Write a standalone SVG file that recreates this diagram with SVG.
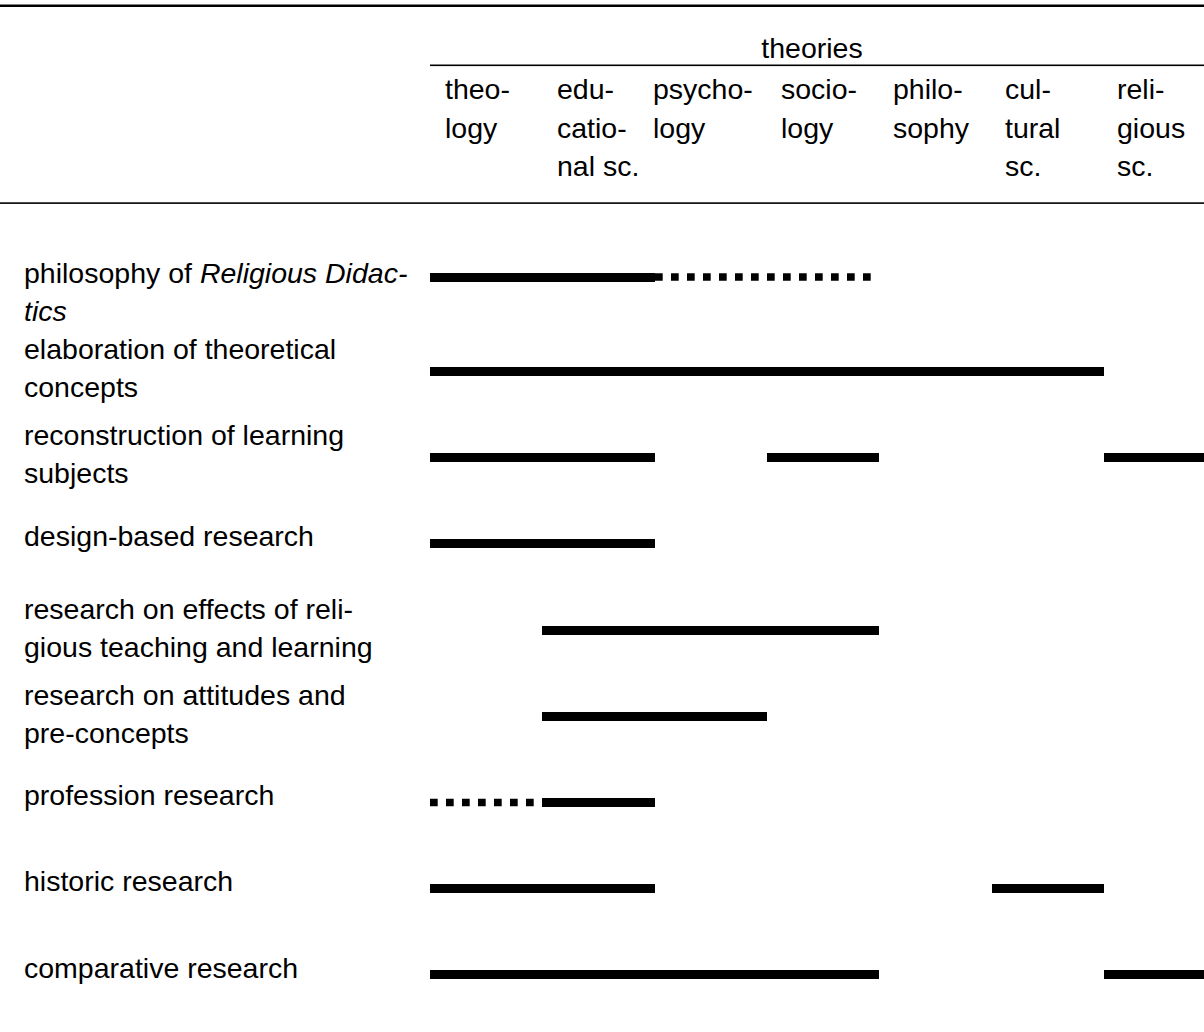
<svg xmlns="http://www.w3.org/2000/svg" width="1204" height="1032" viewBox="0 0 1204 1032">
<style>
text{font-family:"Liberation Sans",Arial,sans-serif;font-size:28.5px;fill:#000}
.it{font-style:italic}
.bar{fill:#000}
.dot{stroke:#000;stroke-width:7.5;stroke-dasharray:7.7 8.3;fill:none}
.rule{fill:#000}
</style>
<rect width="1204" height="1032" fill="#fff"/>
<g id="rules">
<rect class="rule" x="0" y="4.5" width="1204" height="2.5"/>
<rect class="rule" x="430" y="64.5" width="774" height="1.6"/>
<rect class="rule" x="0" y="202.3" width="1204" height="1.6"/>
</g>
<g id="header">
<text x="812" y="58" text-anchor="middle">theories</text>
<g id="col-theology"><text x="445" y="99">theo-</text><text x="445" y="137.5">logy</text></g>
<g id="col-education"><text x="557" y="99">edu-</text><text x="557" y="137.5">catio-</text><text x="557" y="176">nal sc.</text></g>
<g id="col-psychology"><text x="653" y="99">psycho-</text><text x="653" y="137.5">logy</text></g>
<g id="col-sociology"><text x="781" y="99">socio-</text><text x="781" y="137.5">logy</text></g>
<g id="col-philosophy"><text x="893" y="99">philo-</text><text x="893" y="137.5">sophy</text></g>
<g id="col-cultural"><text x="1005" y="99">cul-</text><text x="1005" y="137.5">tural</text><text x="1005" y="176">sc.</text></g>
<g id="col-religious"><text x="1117" y="99">reli-</text><text x="1117" y="137.5">gious</text><text x="1117" y="176">sc.</text></g>
</g>
<g id="labels">
<g id="row1"><text x="24" y="283">philosophy of <tspan class="it">Religious Didac-</tspan></text><text x="24" y="321" class="it">tics</text></g>
<g id="row2"><text x="24" y="359">elaboration of theoretical</text><text x="24" y="397">concepts</text></g>
<g id="row3"><text x="24" y="445">reconstruction of learning</text><text x="24" y="483">subjects</text></g>
<g id="row4"><text x="24" y="546">design-based research</text></g>
<g id="row5"><text x="24" y="619">research on effects of reli-</text><text x="24" y="657">gious teaching and learning</text></g>
<g id="row6"><text x="24" y="705">research on attitudes and</text><text x="24" y="743">pre-concepts</text></g>
<g id="row7"><text x="24" y="805">profession research</text></g>
<g id="row8"><text x="24" y="891">historic research</text></g>
<g id="row9"><text x="24" y="978">comparative research</text></g>
</g>
<g id="connectors">
<rect class="bar" x="430" y="273" width="225" height="9"/>
<line class="dot" x1="655" y1="277" x2="767" y2="277"/>
<line class="dot" x1="767" y1="277" x2="879" y2="277"/>
<rect class="bar" x="430" y="367" width="674" height="9"/>
<rect class="bar" x="430" y="453" width="225" height="9"/>
<rect class="bar" x="767" y="453" width="112" height="9"/>
<rect class="bar" x="1104" y="453" width="100" height="9"/>
<rect class="bar" x="430" y="539" width="225" height="9"/>
<rect class="bar" x="542" y="626" width="337" height="9"/>
<rect class="bar" x="542" y="712" width="225" height="9"/>
<line class="dot" x1="430" y1="802.5" x2="542" y2="802.5"/>
<rect class="bar" x="542" y="798" width="113" height="9"/>
<rect class="bar" x="430" y="884" width="225" height="9"/>
<rect class="bar" x="992" y="884" width="112" height="9"/>
<rect class="bar" x="430" y="970" width="449" height="9"/>
<rect class="bar" x="1104" y="970" width="100" height="9"/>
</g>
</svg>
